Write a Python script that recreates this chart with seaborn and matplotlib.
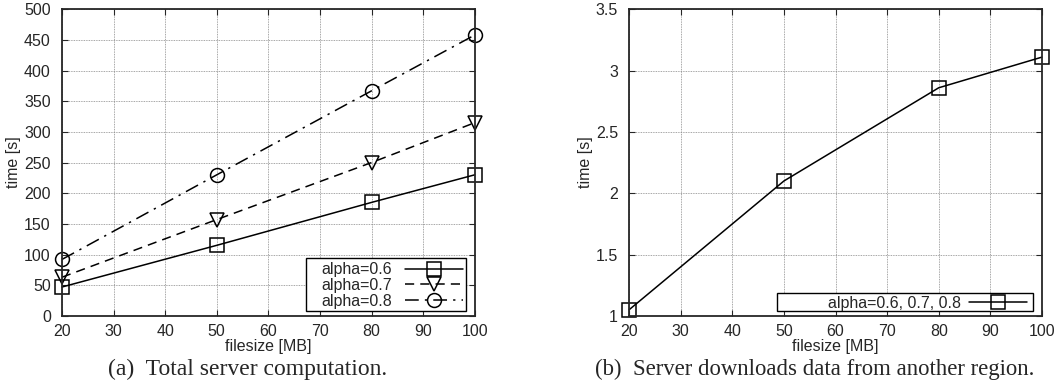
import matplotlib
matplotlib.use("Agg")
import matplotlib.pyplot as plt
from matplotlib.patches import Rectangle
import seaborn as sns
import pandas as pd

# Datos
filesize = [20, 50, 80, 100]
alpha_labels = ["alpha=0.6", "alpha=0.7", "alpha=0.8"]
comp_a06 = [47, 115, 185, 230]
comp_a07 = [63, 157, 250, 315]
comp_a08 = [92, 230, 367, 458]
download_time = [1.05, 2.1, 2.86, 3.11]
download_label = "alpha=0.6, 0.7, 0.8"

sns.set_style("ticks")
plt.rcParams["font.family"] = ["Liberation Sans", "DejaVu Sans"]
plt.rcParams["xtick.direction"] = "in"
plt.rcParams["ytick.direction"] = "in"
plt.rcParams["xtick.top"] = True
plt.rcParams["ytick.right"] = True

FS = 11.5
fig = plt.figure(figsize=(10.61, 3.88), dpi=100)
ax1 = fig.add_axes([0.0584, 0.186, 0.389, 0.790])
ax2 = fig.add_axes([0.593, 0.186, 0.389, 0.790])


def style_axes(ax):
    ax.grid(True, color="#888888", linestyle=(0, (1, 1)), linewidth=0.6)
    ax.set_axisbelow(True)
    for s in ax.spines.values():
        s.set_linewidth(1.3)
    ax.tick_params(axis="x", length=4, width=0.8, labelsize=FS, pad=6)
    ax.tick_params(axis="y", length=4, width=0.8, labelsize=FS, pad=8)
    ax.set_xlim(20, 100)
    ax.set_xticks(range(20, 101, 10))
    ax.set_xlabel("filesize [MB]", fontsize=FS, labelpad=0)
    ax.set_ylabel("time [s]", fontsize=FS, labelpad=2)
    for ln in ax.lines:
        ln.set_clip_on(False)


def legend_box(ax, x0, y0, x1, y1):
    ax.add_patch(Rectangle((x0, y0), x1 - x0, y1 - y0, transform=ax.transAxes,
                           facecolor="white", edgecolor="black", linewidth=1.0,
                           zorder=4))


# (a) computacion total
series = [comp_a06, comp_a07, comp_a08]
markers = ["s", "v", "o"]
dashes = ["-", (0, (6, 4)), (0, (9, 4, 1.5, 4))]
for lab, vals, m, ls in zip(alpha_labels, series, markers, dashes):
    df = pd.DataFrame({"filesize": filesize, "time": vals})
    sns.lineplot(data=df, x="filesize", y="time", ax=ax1, color="black",
                 linewidth=1.1, marker=m, markersize=10, markerfacecolor="none",
                 markeredgecolor="black", markeredgewidth=1.1, label=lab,
                 legend=False)
    ax1.lines[-1].set_linestyle(ls)
style_axes(ax1)
ax1.set_ylim(0, 500)
ax1.set_yticks(range(0, 501, 50))
legend_box(ax1, 0.591, 0.015, 0.978, 0.188)
leg1 = ax1.legend(handles=ax1.lines, loc="lower right", markerfirst=False,
                  handlelength=3.6, frameon=False, handletextpad=0.8,
                  labelspacing=0.05, borderaxespad=0.0, borderpad=0.1,
                  fontsize=FS, bbox_to_anchor=(0.975, 0.018))
leg1.set_zorder(5)

# (b) descargas
df2 = pd.DataFrame({"filesize": filesize, "time": download_time})
sns.lineplot(data=df2, x="filesize", y="time", ax=ax2, color="black",
             linewidth=1.1, marker="s", markersize=10, markerfacecolor="none",
             markeredgecolor="black", markeredgewidth=1.1, label=download_label,
             legend=False)
style_axes(ax2)
ax2.set_ylim(1, 3.5)
ax2.set_yticks([1, 1.5, 2, 2.5, 3, 3.5])
ax2.set_yticklabels(["1", "1.5", "2", "2.5", "3", "3.5"])
legend_box(ax2, 0.358, 0.015, 0.978, 0.074)
leg2 = ax2.legend(handles=ax2.lines, loc="lower right", markerfirst=False,
                  handlelength=3.6, frameon=False, handletextpad=0.5,
                  borderaxespad=0.0, borderpad=0.05, fontsize=FS,
                  bbox_to_anchor=(0.965, 0.013))
leg2.set_zorder(5)

serif = ["Liberation Serif", "DejaVu Serif"]
fig.text(0.233, 0.047, "(a)  Total server computation.",
         family=serif, fontsize=17, ha="center", va="center")
fig.text(0.768, 0.047, "(b)  Server downloads data from another region.",
         family=serif, fontsize=16.4, ha="center", va="center")

fig.savefig("out.png", dpi=100)
